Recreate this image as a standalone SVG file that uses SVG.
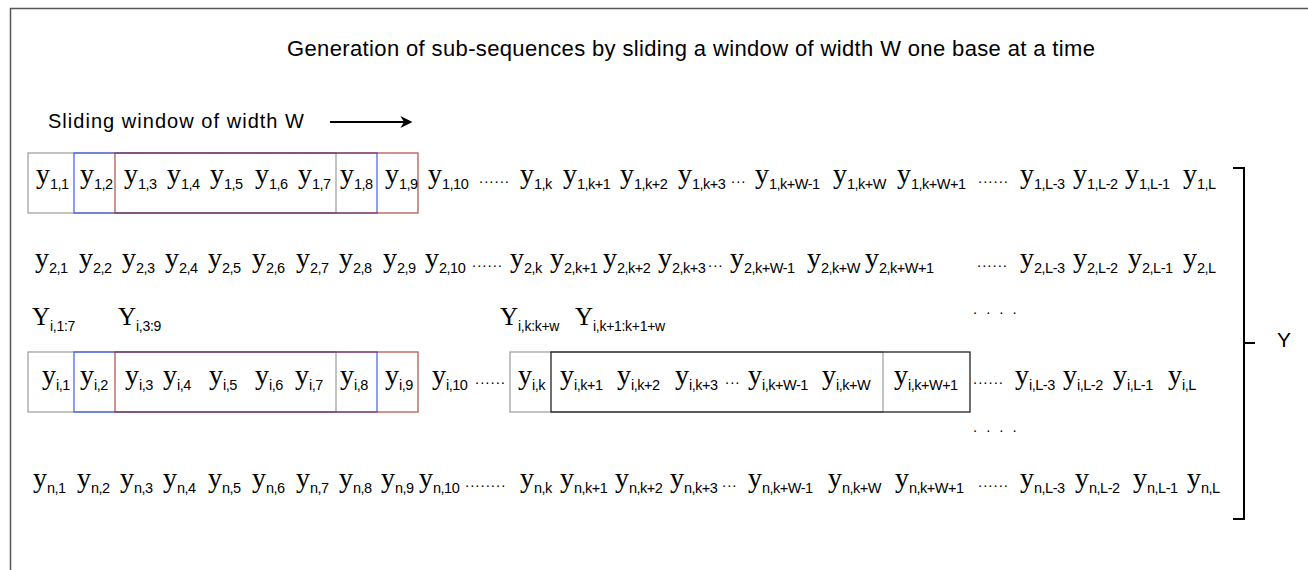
<svg xmlns="http://www.w3.org/2000/svg" width="1308" height="570" viewBox="0 0 1308 570">
<style>
text{fill:#000}
.v{font-family:"Liberation Serif",serif;font-size:28px}
.s{font-family:"Liberation Sans",sans-serif;font-size:14.5px;letter-spacing:-0.5px}
.d{font-family:"Liberation Sans",sans-serif;font-size:15px;letter-spacing:1px}
.dd{font-family:"Liberation Sans",sans-serif;font-size:15px;letter-spacing:9px}
.L{font-family:"Liberation Serif",serif;font-size:25px}
.ls{font-family:"Liberation Sans",sans-serif;font-size:14px;letter-spacing:-0.3px}
.t{font-family:"Liberation Sans",sans-serif;font-size:22px}
.gray{fill:none;stroke:#a3a3a3;stroke-width:1.3}
.blue{fill:none;stroke:#2f52ee;stroke-width:1.3;stroke-opacity:.85}
.red{fill:none;stroke:#9c2418;stroke-width:1.3;stroke-opacity:.75}
.blk{fill:none;stroke:#222;stroke-width:1.3}
.ln{fill:none;stroke:#000;stroke-width:2}
</style>
<defs>
<marker id="ah" viewBox="0 0 10 10" refX="8" refY="5" markerWidth="6" markerHeight="6" orient="auto"><path d="M0,0 L10,5 L0,10 L3,5 z" fill="#000"/></marker>
</defs>
<g id="frame"><path d="M10.5,570 V8.5 H1308" fill="none" stroke="#555" stroke-width="1.5"/></g>
<g id="title"><text class="t" x="287" y="56" textLength="808">Generation of sub-sequences by sliding a window of width W one base at a time</text></g>
<g id="sliding-label"><text class="t" x="48" y="128" style="font-size:20px" textLength="256">Sliding window of width W</text></g>
<g id="windows-row1">
<rect class="gray" x="28" y="153" width="308" height="60"/>
<rect class="blue" x="74" y="153" width="303" height="60"/>
<rect class="red" x="115" y="153" width="303" height="60"/>
</g>
<g id="windows-rowi">
<rect class="gray" x="28" y="352" width="308" height="60"/>
<rect class="blue" x="74" y="352" width="303" height="60"/>
<rect class="red" x="115" y="352" width="303" height="60"/>
<rect class="gray" x="510" y="352" width="373" height="60"/>
<rect class="blk" x="551" y="352" width="419" height="60"/>
</g>
<g id="row1">
<text class="v" x="36" y="183">y<tspan class="s" dy="6">1,1</tspan></text>
<text class="v" x="80" y="183">y<tspan class="s" dy="6">1,2</tspan></text>
<text class="v" x="124" y="183">y<tspan class="s" dy="6">1,3</tspan></text>
<text class="v" x="167" y="183">y<tspan class="s" dy="6">1,4</tspan></text>
<text class="v" x="210" y="183">y<tspan class="s" dy="6">1,5</tspan></text>
<text class="v" x="255" y="183">y<tspan class="s" dy="6">1,6</tspan></text>
<text class="v" x="298" y="183">y<tspan class="s" dy="6">1,7</tspan></text>
<text class="v" x="340" y="183">y<tspan class="s" dy="6">1,8</tspan></text>
<text class="v" x="385" y="183">y<tspan class="s" dy="6">1,9</tspan></text>
<text class="v" x="428" y="183">y<tspan class="s" dy="6">1,10</tspan></text>
<text class="d" x="479" y="183">......</text>
<text class="v" x="520" y="183">y<tspan class="s" dy="6">1,k</tspan></text>
<text class="v" x="563" y="183">y<tspan class="s" dy="6">1,k+1</tspan></text>
<text class="v" x="620" y="183">y<tspan class="s" dy="6">1,k+2</tspan></text>
<text class="v" x="678" y="183">y<tspan class="s" dy="6">1,k+3</tspan></text>
<text class="d" x="731" y="183">...</text>
<text class="v" x="755" y="183">y<tspan class="s" dy="6">1,k+W-1</tspan></text>
<text class="v" x="833" y="183">y<tspan class="s" dy="6">1,k+W</tspan></text>
<text class="v" x="897" y="183">y<tspan class="s" dy="6">1,k+W+1</tspan></text>
<text class="d" x="978" y="183">......</text>
<text class="v" x="1020" y="183">y<tspan class="s" dy="6">1,L-3</tspan></text>
<text class="v" x="1073" y="183">y<tspan class="s" dy="6">1,L-2</tspan></text>
<text class="v" x="1125" y="183">y<tspan class="s" dy="6">1,L-1</tspan></text>
<text class="v" x="1183" y="183">y<tspan class="s" dy="6">1,L</tspan></text>
</g>
<g id="row2">
<text class="v" x="35" y="267">y<tspan class="s" dy="6">2,1</tspan></text>
<text class="v" x="79" y="267">y<tspan class="s" dy="6">2,2</tspan></text>
<text class="v" x="122" y="267">y<tspan class="s" dy="6">2,3</tspan></text>
<text class="v" x="165" y="267">y<tspan class="s" dy="6">2,4</tspan></text>
<text class="v" x="208" y="267">y<tspan class="s" dy="6">2,5</tspan></text>
<text class="v" x="252" y="267">y<tspan class="s" dy="6">2,6</tspan></text>
<text class="v" x="296" y="267">y<tspan class="s" dy="6">2,7</tspan></text>
<text class="v" x="339" y="267">y<tspan class="s" dy="6">2,8</tspan></text>
<text class="v" x="383" y="267">y<tspan class="s" dy="6">2,9</tspan></text>
<text class="v" x="425" y="267">y<tspan class="s" dy="6">2,10</tspan></text>
<text class="d" x="472" y="267">......</text>
<text class="v" x="510" y="267">y<tspan class="s" dy="6">2,k</tspan></text>
<text class="v" x="550" y="267">y<tspan class="s" dy="6">2,k+1</tspan></text>
<text class="v" x="603" y="267">y<tspan class="s" dy="6">2,k+2</tspan></text>
<text class="v" x="658" y="267">y<tspan class="s" dy="6">2,k+3</tspan></text>
<text class="d" x="708" y="267">...</text>
<text class="v" x="730" y="267">y<tspan class="s" dy="6">2,k+W-1</tspan></text>
<text class="v" x="807" y="267">y<tspan class="s" dy="6">2,k+W</tspan></text>
<text class="v" x="865" y="267">y<tspan class="s" dy="6">2,k+W+1</tspan></text>
<text class="d" x="977" y="267">......</text>
<text class="v" x="1020" y="267">y<tspan class="s" dy="6">2,L-3</tspan></text>
<text class="v" x="1073" y="267">y<tspan class="s" dy="6">2,L-2</tspan></text>
<text class="v" x="1128" y="267">y<tspan class="s" dy="6">2,L-1</tspan></text>
<text class="v" x="1183" y="267">y<tspan class="s" dy="6">2,L</tspan></text>
</g>
<g id="window-labels">
<text class="L" x="32" y="325">Y<tspan class="ls" dy="6">i,1:7</tspan></text>
<text class="L" x="118" y="325">Y<tspan class="ls" dy="6">i,3:9</tspan></text>
<text class="L" x="500" y="325">Y<tspan class="ls" dy="6">i,k:k+w</tspan></text>
<text class="L" x="575" y="325">Y<tspan class="ls" dy="6">i,k+1:k+1+w</tspan></text>
<text class="dd" x="973" y="314">....</text>
<text class="dd" x="973" y="432">....</text>
</g>
<g id="rowi">
<text class="v" x="42" y="384">y<tspan class="s" dy="6">i,1</tspan></text>
<text class="v" x="80" y="384">y<tspan class="s" dy="6">i,2</tspan></text>
<text class="v" x="125" y="384">y<tspan class="s" dy="6">i,3</tspan></text>
<text class="v" x="163" y="384">y<tspan class="s" dy="6">i,4</tspan></text>
<text class="v" x="209" y="384">y<tspan class="s" dy="6">i,5</tspan></text>
<text class="v" x="255" y="384">y<tspan class="s" dy="6">i,6</tspan></text>
<text class="v" x="295" y="384">y<tspan class="s" dy="6">i,7</tspan></text>
<text class="v" x="340" y="384">y<tspan class="s" dy="6">i,8</tspan></text>
<text class="v" x="385" y="384">y<tspan class="s" dy="6">i,9</tspan></text>
<text class="v" x="432" y="384">y<tspan class="s" dy="6">i,10</tspan></text>
<text class="d" x="475" y="384">......</text>
<text class="v" x="518" y="384">y<tspan class="s" dy="6">i,k</tspan></text>
<text class="v" x="560" y="384">y<tspan class="s" dy="6">i,k+1</tspan></text>
<text class="v" x="617" y="384">y<tspan class="s" dy="6">i,k+2</tspan></text>
<text class="v" x="675" y="384">y<tspan class="s" dy="6">i,k+3</tspan></text>
<text class="d" x="725" y="384">...</text>
<text class="v" x="748" y="384">y<tspan class="s" dy="6">i,k+W-1</tspan></text>
<text class="v" x="822" y="384">y<tspan class="s" dy="6">i,k+W</tspan></text>
<text class="v" x="894" y="384">y<tspan class="s" dy="6">i,k+W+1</tspan></text>
<text class="d" x="973" y="384">......</text>
<text class="v" x="1015" y="384">y<tspan class="s" dy="6">i,L-3</tspan></text>
<text class="v" x="1063" y="384">y<tspan class="s" dy="6">i,L-2</tspan></text>
<text class="v" x="1113" y="384">y<tspan class="s" dy="6">i,L-1</tspan></text>
<text class="v" x="1168" y="384">y<tspan class="s" dy="6">i,L</tspan></text>
</g>
<g id="rown">
<text class="v" x="33" y="487">y<tspan class="s" dy="6">n,1</tspan></text>
<text class="v" x="77" y="487">y<tspan class="s" dy="6">n,2</tspan></text>
<text class="v" x="120" y="487">y<tspan class="s" dy="6">n,3</tspan></text>
<text class="v" x="163" y="487">y<tspan class="s" dy="6">n,4</tspan></text>
<text class="v" x="208" y="487">y<tspan class="s" dy="6">n,5</tspan></text>
<text class="v" x="252" y="487">y<tspan class="s" dy="6">n,6</tspan></text>
<text class="v" x="296" y="487">y<tspan class="s" dy="6">n,7</tspan></text>
<text class="v" x="339" y="487">y<tspan class="s" dy="6">n,8</tspan></text>
<text class="v" x="381" y="487">y<tspan class="s" dy="6">n,9</tspan></text>
<text class="v" x="419" y="487">y<tspan class="s" dy="6">n,10</tspan></text>
<text class="d" x="465" y="487">........</text>
<text class="v" x="520" y="487">y<tspan class="s" dy="6">n,k</tspan></text>
<text class="v" x="560" y="487">y<tspan class="s" dy="6">n,k+1</tspan></text>
<text class="v" x="615" y="487">y<tspan class="s" dy="6">n,k+2</tspan></text>
<text class="v" x="670" y="487">y<tspan class="s" dy="6">n,k+3</tspan></text>
<text class="d" x="722" y="487">...</text>
<text class="v" x="748" y="487">y<tspan class="s" dy="6">n,k+W-1</tspan></text>
<text class="v" x="828" y="487">y<tspan class="s" dy="6">n,k+W</tspan></text>
<text class="v" x="895" y="487">y<tspan class="s" dy="6">n,k+W+1</tspan></text>
<text class="d" x="978" y="487">......</text>
<text class="v" x="1020" y="487">y<tspan class="s" dy="6">n,L-3</tspan></text>
<text class="v" x="1075" y="487">y<tspan class="s" dy="6">n,L-2</tspan></text>
<text class="v" x="1133" y="487">y<tspan class="s" dy="6">n,L-1</tspan></text>
<text class="v" x="1187" y="487">y<tspan class="s" dy="6">n,L</tspan></text>
</g>
<g id="Y-label"><text class="t" x="1277" y="347" style="font-size:21px">Y</text></g>
<g id="connectors">
<line class="ln" x1="330" y1="122" x2="410" y2="122" marker-end="url(#ah)"/>
<path class="ln" d="M1233,168 H1244 V519 H1233 M1244,343 H1255"/>
</g>
</svg>
